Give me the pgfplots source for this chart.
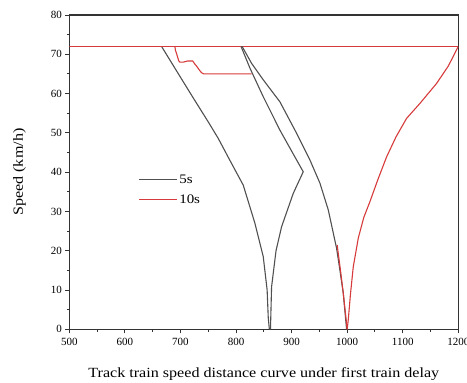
\documentclass[border=0pt]{standalone}
\usepackage{fontspec}
\setmainfont{Liberation Serif}
\newfontfamily\labelfont[FakeStretch=1.15]{Liberation Serif}
\usepackage{pgfplots}
\pgfplotsset{compat=1.18}
\definecolor{cgray}{HTML}{505050}
\definecolor{cred}{HTML}{D63A3A}
\begin{document}
\begin{tikzpicture}[x=1pt,y=1pt]
\begin{axis}[
  at={(69.3pt,53.7pt)}, anchor=south west,
  scale only axis, width=389pt, height=314.3pt,
  xmin=500, xmax=1200, ymin=0, ymax=80,
  xtick={500,600,...,1200}, ytick={0,10,...,80},
  minor x tick num=1, minor y tick num=1,
  tick align=outside, xtick pos=bottom, ytick pos=left,
  major tick length=4pt, minor tick length=2.5pt,
  axis line style={black!80, line width=1.3pt},
  every tick/.style={black!80, line width=1pt},
  /pgf/number format/assume math mode=true,
  /pgf/number format/set thousands separator={},
  tick label style={font=\fontsize{11}{12}\selectfont},
  xticklabel style={yshift=-1pt},
  xlabel={Track train speed distance curve under first train delay},
  ylabel={Speed (km/h)},
  label style={font=\labelfont\fontsize{14}{16}\selectfont},
  xlabel style={yshift=-16pt},
  ylabel style={yshift=18pt},
  legend style={draw=none, fill=none, at={(0.17,0.505)}, anchor=north west,
    font=\labelfont\fontsize{13}{15}\selectfont, row sep=6pt},
  legend cell align=left,
  legend image post style={xscale=2.2},
  clip=true,
]
% 5s series
\addplot[cgray, line width=1.1pt] coordinates {
 (666,72) (699,64.4) (723,58.9) (750,52.8) (768,48.6) (789,43) (813,36.7)
 (834,27) (849,18.5) (856,10) (858,3) (860,0)
};
\addlegendentry{5s}
% 10s series (for legend)
\addplot[cred, line width=1.1pt] coordinates {(500,72) (1200,72)};
\addlegendentry{10s}
\addplot[cgray, line width=1.1pt, forget plot] coordinates {
 (862,0) (864,10.8) (872,20) (882,26.1) (903,34.6) (921,40.1)
 (909,43.1) (879,50.7) (849,59.2) (825,66.5) (809,72)
};
\addplot[cgray, line width=1.1pt, forget plot] coordinates {
 (811,72) (828,67.7) (849,63.5) (879,57.9) (909,49.9) (933,43.1) (951,37.2) (966,30.4)
 (981,20.6) (987,15) (993,9.2) (997,3) (999,0)
};
% 10s step curve and right branch
\addplot[cred, line width=1.1pt, forget plot] coordinates {
 (690,72) (691,71) (693,70.2) (697,68.3) (699,68) (705,68) (713,68.3) (722,68.3)
 (726,67.5) (729,67) (734,66) (738,65.3) (742,65) (828,65)
};
\addplot[cred, line width=1.1pt, forget plot] coordinates {
 (982,21.5) (984,19.3) (988,15) (993,9.2) (997,4) (999,1.5) (1000,0)
};
\addplot[cred, line width=1.1pt, forget plot] coordinates {
 (1000,0) (1002,2.4) (1006,9) (1011,15.9) (1020,23.2) (1030,28.5) (1041,32.5)
 (1055,38) (1071,43.9) (1088,49) (1107,53.7) (1131,57.5) (1161,62.6) (1182,67)
 (1200,72)
};
\end{axis}
\pgfresetboundingbox
\path[use as bounding box] (0,0) rectangle (467pt,383pt);
\end{tikzpicture}
\end{document}
